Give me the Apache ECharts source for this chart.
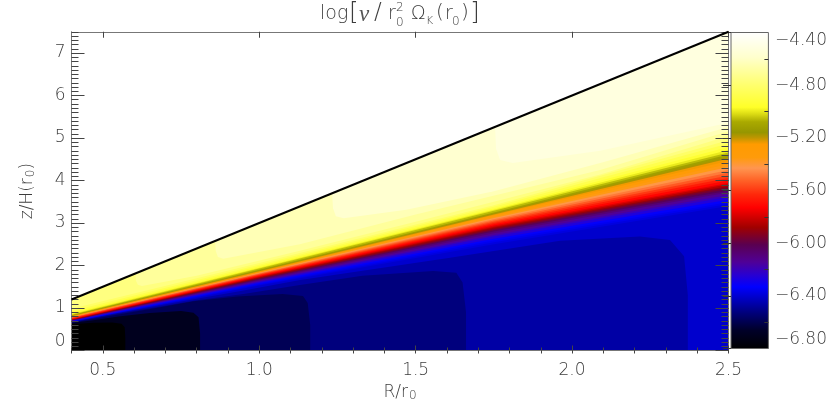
<!DOCTYPE html>
<html><head><meta charset="utf-8">
<style>html,body{margin:0;padding:0;background:#fff}#c{width:830px;height:415px}</style>
<script src="https://cdn.jsdelivr.net/npm/echarts@6/dist/echarts.min.js"></script>
</head><body><div id="c"></div>
<script>
// ---- data ----
const xMajorTicks=[0.5,1,1.5,2,2.5];
const yMajorTicks=[0,1,2,3,4,5,6,7];
const barMajorTicks=[-6.8,-6.4,-6,-5.6,-5.2,-4.8,-4.4];
const barMinorTicks=[-6.6,-6.2,-5.8,-5.4,-5,-4.6];
const wedgeR=[0.4,2.5];
const wedgeZ=[1.2,7.5];
// colour table: log value -> rgb
const cmapV=[-6.8,-6.74,-6.68,-6.62,-6.56,-6.5,-6.33,-6.24,-6.14,-6.01,-5.88,-5.73,-5.63,-5.52,-5.43,-5.35,-5.25,-5.2,-5.16,-5.08,-5.02,-4.97,-4.8,-4.59,-4.4];
const cmapR=[0,0,0,0,0,0,0,40,80,90,160,255,255,255,255,255,255,190,150,170,220,255,255,255,255];
const cmapG=[0,0,0,0,0,0,0,0,0,0,0,0,40,100,150,155,155,150,150,170,220,255,255,255,255];
const cmapB=[0,30,85,125,165,205,255,210,150,80,0,0,10,40,80,10,0,0,0,0,20,40,110,205,255];
// colour bar's own dark end, as it appears in the bar
const barDarkV=[-6.8,-6.66,-6.53,-6.33];
const barDarkB=[0,40,120,255];
// contours in the fan: z at four radii, one entry per level
const fanR=[0.4,1,1.75,2.5];
const fanLevels=[-6.44,-6.38,-6.32,-6.26,-6.2,-6.14,-6.08,-6.02,-5.96,-5.9,-5.84,-5.78,-5.72,-5.66,-5.6,-5.54,-5.48,-5.42,-5.36,-5.3,-5.24,-5.18,-5.12,-5.06,-5,-4.94,-4.88,-4.82,-4.76];
const fanZInner=[.675,.68,.685,.69,.695,.7,.705,.71,.715,.72,.725,.73,.735,.745,.755,.765,.775,.785,.79,.795,.8,.81,.82,.83,.84,.86,.89,.93,.98];
const fanZAt1=[1.53,1.55,1.57,1.59,1.61,1.63,1.65,1.67,1.685,1.7,1.715,1.73,1.745,1.76,1.775,1.79,1.805,1.82,1.83,1.84,1.85,1.865,1.88,1.9,1.93,1.95,1.98,2.02,2.06];
const fanZAt175=[2.5,2.55,2.59,2.63,2.68,2.72,2.76,2.8,2.83,2.86,2.89,2.91,2.94,2.97,3,3.03,3.06,3.09,3.12,3.15,3.18,3.2,3.23,3.25,3.29,3.31,3.34,3.38,3.42];
const fanZOuter=[3.4,3.45,3.49,3.55,3.61,3.66,3.72,3.76,3.8,3.84,3.87,3.91,3.94,4,4.06,4.12,4.18,4.25,4.32,4.39,4.46,4.52,4.56,4.61,4.66,4.72,4.79,4.87,4.95];
// rounded boxes near the midplane
const baseLevel=-6.8;
const boxLevels=[-6.74,-6.68,-6.62,-6.56,-6.5];
const box1R=[.4,.47,.53,.56,.57,.572,.572];
const box1Z=[.62,.655,.66,.63,.55,.3,0];
const box2R=[.4,.47,.55,.65,.75,.79,.806,.811,.811];
const box2Z=[.645,.71,.8,.88,.93,.89,.78,.4,0];
const box3R=[.4,.47,.55,.67,.79,.93,1.075,1.14,1.155,1.163,1.163];
const box3Z=[.655,.74,.85,1,1.16,1.27,1.33,1.28,1.12,.6,0];
const box4R=[.4,.47,.55,.67,.8,.95,1.13,1.33,1.556,1.63,1.65,1.661,1.661];
const box4Z=[.665,.76,.87,1.02,1.18,1.33,1.54,1.76,1.87,1.83,1.6,.9,0];
const box5R=[.4,.47,.55,.67,.8,.95,1.131,1.61,1.962,2.217,2.313,2.358,2.37,2.37];
const box5Z=[.67,.775,.89,1.05,1.22,1.41,1.66,2.18,2.58,2.68,2.6,2.22,1.3,0];
// pale caps under the wedge edge
const capLevels=[-4.7,-4.64,-4.58,-4.52];
const cap1R=[.604,.606,.612,.625,.8,1.13,1.5,2.09,2.5];
const cap1Z=[1.81,1.64,1.55,1.52,1.76,2.35,3.03,4.14,5.05];
const cap2R=[.859,.861,.868,.885,1.13,1.5,2.09,2.5];
const cap2Z=[2.58,2.34,2.2,2.16,2.5,3.2,4.25,5.16];
const cap3R=[1.233,1.236,1.245,1.27,1.47,1.75,2.09,2.5];
const cap3Z=[3.7,3.35,3.16,3.11,3.31,3.75,4.41,5.26];
const cap4R=[1.754,1.757,1.77,1.81,2.09,2.5];
const cap4Z=[5.26,4.75,4.48,4.41,4.7,5.36];

// ---- helpers ----
function lerp(xs,ys,v){
  let i=0; while(i<xs.length-2&&v>xs[i+1])i++;
  const t=Math.max(0,Math.min(1,(v-xs[i])/(xs[i+1]-xs[i])));
  return Math.round(ys[i]+(ys[i+1]-ys[i])*t);
}
const cmap=v=>'rgb('+lerp(cmapV,cmapR,v)+','+lerp(cmapV,cmapG,v)+','+lerp(cmapV,cmapB,v)+')';
const zip=(r,z)=>r.map((x,i)=>[x,z[i]]);
const contours=[];
contours.push({level:baseLevel,pts:[[.4,0]]});
[[box1R,box1Z],[box2R,box2Z],[box3R,box3Z],[box4R,box4Z],[box5R,box5Z]].forEach((b,i)=>contours.push({level:boxLevels[i],pts:zip(b[0],b[1])}));
fanLevels.forEach((l,i)=>contours.push({level:l,pts:zip(fanR,[fanZInner[i],fanZAt1[i],fanZAt175[i],fanZOuter[i]])}));
[[cap1R,cap1Z],[cap2R,cap2Z],[cap3R,cap3Z],[cap4R,cap4Z]].forEach((c,i)=>contours.push({level:capLevels[i],pts:zip(c[0],c[1])}));
contours.forEach(c=>{
  const p=c.pts.slice();
  if(p[p.length-1][1]===0)p.push([2.5,0]);
  p.push([wedgeR[1],wedgeZ[1]]);
  if(p[0][0]===wedgeR[0])p.push([wedgeR[0],wedgeZ[0]]);
  c.poly=p;
});
const seq=(a,b,s)=>{const o=[];for(let i=0;a+i*s<=b+1e-9;i++)o.push(+(a+i*s).toFixed(2));return o;};
const xMinor=seq(.4,2.5,.1), yMinor=seq(0,7.5,.1);

const FONT="'DejaVu Sans Light','DejaVu Sans'";
const TXT='#3c3c3c';
const LS=17;
const line={show:true,onZero:false,lineStyle:{color:'#777',width:1}};
function ax(kind,pos,opt){
  const base={type:'value',position:pos,z:5,splitLine:{show:false},minorTick:{show:false},
    axisLine:opt.line?line:{show:false},
    axisTick:{show:true,inside:true,length:opt.len,customValues:opt.ticks,lineStyle:{color:'#444',width:1}},
    axisLabel:{show:false}};
  if(kind==='x'){base.min=.4;base.max=2.5;} else {base.min=0;base.max=7.5;}
  return Object.assign(base,opt.extra||{});
}
const lab=(vals,fmt,m,extra)=>Object.assign({show:true,customValues:vals,formatter:fmt,margin:m,fontFamily:FONT,fontSize:LS,color:TXT,hideOverlap:false},extra||{});
const nameRich={m:{fontFamily:FONT,fontSize:LS,color:TXT},s:{fontFamily:FONT,fontSize:12,color:TXT,verticalAlign:'bottom',padding:[6,0,0,1]}};

const xAxis=[
 ax('x','bottom',{line:true,len:5,ticks:xMajorTicks,extra:{
   axisLabel:lab(xMajorTicks,v=>(+v).toFixed(1),12),
   name:'{m|R/r}{s|0}',nameLocation:'middle',nameGap:32,nameTextStyle:{rich:nameRich}}}),
 ax('x','bottom',{len:3,ticks:xMinor}),
 ax('x','top',{line:true,len:6,ticks:xMajorTicks}),
 ax('x','top',{len:3,ticks:xMinor}),
 {type:'value',gridIndex:1,min:0,max:1,position:'bottom',axisLine:{show:false},axisTick:{show:false},axisLabel:{show:false},splitLine:{show:false}}
];
const yAxis=[
 ax('y','left',{line:true,len:13,ticks:yMajorTicks,extra:{
   axisLabel:lab(yMajorTicks,v=>String(v),6,{verticalAlignMinLabel:'bottom'}),
   name:'{m|z/H(r}{s|0}{m|)}',nameLocation:'middle',nameGap:35,nameRotate:90,nameTextStyle:{rich:nameRich}}}),
 ax('y','left',{len:7,ticks:yMinor}),
 ax('y','right',{line:true,len:13,ticks:yMajorTicks}),
 ax('y','right',{len:7,ticks:yMinor}),
 {type:'value',gridIndex:1,min:-6.8,max:-4.4,position:'right',z:5,splitLine:{show:false},axisLine:{show:false},
  axisTick:{show:true,inside:true,length:8,customValues:barMajorTicks,lineStyle:{color:'#333'}},
  axisLabel:lab(barMajorTicks,v=>'\u2212'+Math.abs(v).toFixed(2),6.5,{verticalAlignMinLabel:'bottom',verticalAlignMaxLabel:'top'})},
 {type:'value',gridIndex:1,min:-6.8,max:-4.4,position:'right',z:5,splitLine:{show:false},axisLine:{show:false},
  axisTick:{show:true,inside:true,length:4,customValues:barMinorTicks,lineStyle:{color:'#333'}},axisLabel:{show:false}}
];
// colour-bar gradient: the bar's own dark end, then the shared table above blue
const barStops=[];
barDarkV.forEach((v,i)=>barStops.push({offset:1-(v+6.8)/2.4,color:'rgb(0,0,'+barDarkB[i]+')'}));
cmapV.forEach(v=>{if(v>-6.33)barStops.push({offset:1-(v+6.8)/2.4,color:cmap(v)});});
barStops.reverse();

const T=(text,left,top,size,extra)=>({text,left,top,textStyle:Object.assign({fontFamily:FONT,fontSize:size,fontWeight:'normal',color:TXT},extra||{}),padding:0});
const title=[
 T('log',320,5,19), T('[',349,1,25),
 T('\u03bd',359,3,23,{fontFamily:'Liberation Serif',fontStyle:'italic',color:'#555'}),
 T('/',374,2,23), T('r',388,5,19), T('2',396,2,12), T('0',396,17,12),
 T('\u03a9',411,5,19), T('K',426,16,11), T('(',436,3,20), T('r',445,5,19), T('0',452,16,12),
 T(')',461,3,20), T(']',470,1,25)
];

const chart=echarts.init(document.getElementById('c'),null,{renderer:'canvas'});
chart.setOption({
 animation:false,backgroundColor:'#fff',
 title,
 grid:[{left:71.5,top:31.75,width:657,height:318.75},{left:731,top:32.5,width:41.5,height:316}],
 xAxis,yAxis,
 series:[
  {type:'custom',name:'field',coordinateSystem:'cartesian2d',xAxisIndex:0,yAxisIndex:0,z:2,silent:true,clip:false,
   data:contours.map((c,i)=>[c.poly[0][0],c.poly[0][1],i]),
   renderItem(p,api){
     const c=contours[api.value(2)];
     return {type:'polygon',shape:{points:c.poly.map(q=>api.coord(q))},style:{fill:cmap(c.level)}};
   }},
  {type:'line',name:'wedge',xAxisIndex:0,yAxisIndex:0,z:6,silent:true,clip:false,showSymbol:false,symbol:'none',
   data:zip(wedgeR,wedgeZ),lineStyle:{color:'#000',width:2}},
  {type:'custom',name:'colorbar',coordinateSystem:'cartesian2d',xAxisIndex:4,yAxisIndex:4,z:2,silent:true,clip:false,
   data:[[0,-6.8]],
   renderItem(p,api){
     const a=api.coord([0,-4.4]),b=api.coord([1,-6.8]);
     return {type:'rect',shape:{x:a[0],y:a[1],width:b[0]-a[0],height:b[1]-a[1]},
       style:{fill:new echarts.graphic.LinearGradient(0,0,0,1,barStops),stroke:'#666',lineWidth:1}};
   }}
 ]
});
</script></body></html>
